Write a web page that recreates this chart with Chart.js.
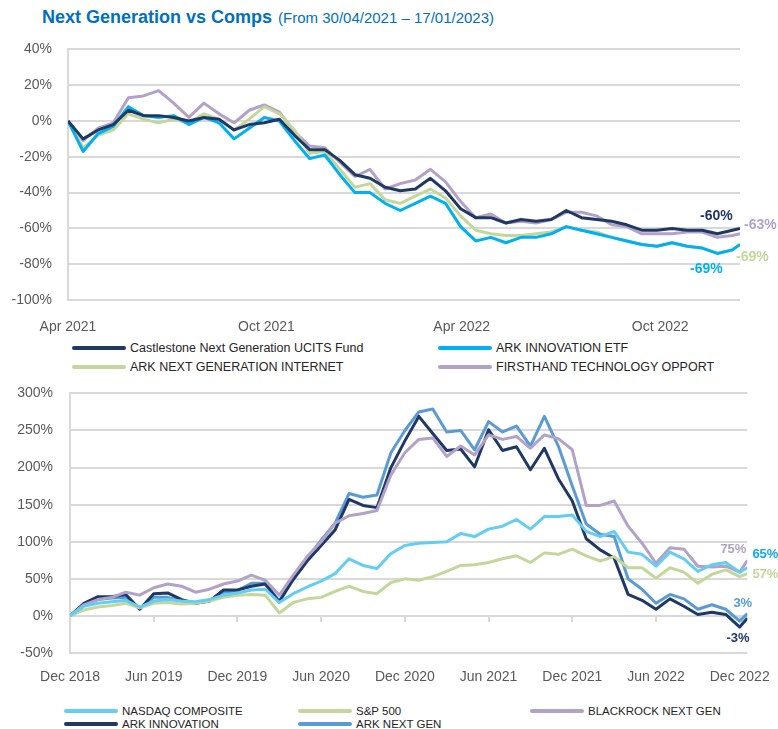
<!DOCTYPE html>
<html>
<head>
<meta charset="utf-8">
<title>Next Generation vs Comps</title>
<script src="https://cdn.jsdelivr.net/npm/chart.js@4.4.1/dist/chart.umd.min.js"></script>
<style>
  html, body { margin: 0; padding: 0; background: #fff; }
  body { width: 778px; height: 729px; position: relative; overflow: hidden; font-family: 'Liberation Sans', Arial, sans-serif; }
  .title { position: absolute; left: 42px; top: 7px; color: #0070C0; white-space: nowrap; }
  .title b { font-size: 18px; }
  .title span { font-size: 15px; margin-left: 6px; }
  .box { position: absolute; left: 0; width: 778px; }
  #topBox { top: 25px; height: 311px; }
  #botBox { top: 368px; height: 324px; }
  .legend { position: absolute; display: grid; font-family: 'Liberation Sans Narrow', 'Liberation Sans', sans-serif; color: #262626; }
  .legend .item { display: flex; align-items: center; white-space: nowrap; }
  .legend .swatch { width: 54px; height: 4px; border-radius: 2px; margin-right: 4px; }
  #topLegend { left: 72px; top: 338px; grid-template-columns: 366px 300px; grid-auto-rows: 19px; font-size: 12.5px; }
  #botLegend { left: 64px; top: 704px; grid-template-columns: 234px 232px 200px; grid-auto-rows: 13px; font-size: 11.5px; }
</style>
</head>
<body>
<div class="title"><b>Next Generation vs Comps</b><span>(From 30/04/2021 – 17/01/2023)</span></div>
<div class="box" id="topBox"><canvas id="topChart" width="778" height="311"></canvas></div>
<div class="legend" id="topLegend"></div>
<div class="box" id="botBox"><canvas id="botChart" width="778" height="324"></canvas></div>
<div class="legend" id="botLegend"></div>
<script>
// top chart: performance (%) since 30/04/2021, x = days after start
var topDays = [0,14,28,42,56,70,84,98,112,126,140,154,168,182,196,210,224,238,252,266,280,294,308,322,336,350,364,378,392,406,420,434,448,462,476,490,504,518,532,546,560,574,588,602,616,623];
var castlestone = [0,-10,-5,-2,6,3,3,2,0,2, 1,-5,-2,-1,1,-8,-16,-16,-22,-30, -32,-37,-39,-38,-32,-39,-49,-54,-54,-57, -55,-56,-55,-50,-54,-55,-56,-58,-61,-61, -60,-61,-61,-63,-61,-60];
var arkInnovationEtf = [0,-17,-7,-3,8,3,2,3,-2,2, -1,-10,-4,2,0,-11,-21,-19,-30,-40, -40,-46,-50,-46,-42,-46,-59,-67,-65,-68, -65,-65,-63,-59,-61,-63,-65,-67,-69,-70, -68,-70,-71,-74,-72,-69];
var arkNextGenInternet = [0,-15,-8,-5,4,1,-1,1,-1,4, 1,-5,1,8,4,-5,-18,-17,-27,-37, -35,-44,-46,-42,-38,-43,-53,-61,-63,-64, -64,-63,-62,-59,-61,-62,-65,-67,-69,-70, -68,-70,-71,-74,-72,-69];
var firsthandTech = [0,-11,-4,-1,13,14,17,10,2,10, 4,-1,6,9,5,-6,-14,-15,-23,-31, -27,-38,-35,-33,-27,-34,-45,-54,-52,-57, -56,-57,-55,-51,-51,-53,-58,-59,-63,-63, -63,-62,-62,-65,-64,-63];
var topTickDays = [0, 184, 365, 549];
var topTickLabels = ['Apr 2021', 'Oct 2021', 'Apr 2022', 'Oct 2022'];

// bottom chart: monthly performance (%), x = months after Dec 2018
var botMonths = [0,1,2,3,4,5,6,7,8,9,10,11,12,13,14,15,16,17,18,19,20,21,22,23,24,25,26,27,28,29,30,31,32,33,34,35,36,37,38,39,40,41,42,43,44,45,46,47,48,48.55];
var nasdaq = [0,13,17,19,21,12,20,22,20,19, 22,28,31,35,36,18,30,39,47,57, 77,68,64,84,95,98,99,100,111,107, 117,121,130,117,134,134,136,114,107,114, 86,83,67,86,77,60,69,72,59,65];
var sp500 = [0,8,12,14,17,11,17,18,16,17, 20,25,28,29,28,4,18,23,25,33, 40,33,30,45,50,48,53,60,68,69, 72,77,81,72,85,83,90,81,74,80, 65,65,51,65,59,44,56,62,53,57];
var blackrockNextGen = [0,15,22,25,32,28,38,43,40,32, 36,43,47,55,48,28,55,80,100,125, 135,138,142,190,220,238,240,215,229,217, 244,238,242,226,244,239,224,149,149,155, 121,98,71,92,90,67,66,67,59,75];
var arkInnovation = [0,17,26,26,29,9,30,31,22,17, 20,35,35,40,43,19,49,74,95,116, 157,149,146,200,236,269,246,223,225,201, 251,223,228,197,226,185,155,104,89,78, 29,21,9,23,13,2,5,2,-15,-3];
var arkNextGen = [0,16,22,24,25,10,25,25,20,17, 20,32,34,44,44,20,52,78,102,125, 165,160,163,220,250,275,279,248,250,224, 262,248,256,229,269,229,175,124,110,107, 50,36,17,29,23,9,15,9,-7,3];
var botTickMonths = [0, 6, 12, 18, 24, 30, 36, 42, 48];
var botTickLabels = ['Dec 2018','Jun 2019','Dec 2019','Jun 2020','Dec 2020','Jun 2021','Dec 2021','Jun 2022','Dec 2022'];

var gridColor = '#d9d9d9';
var tickColor = '#595959';

function pts(xs, ys) {
    return ys.map(function(y, i) { return { x: xs[i], y: y }; });
}

function line(label, xs, ys, color, endLabel) {
    return {
        label: label,
        data: pts(xs, ys),
        borderColor: color,
        backgroundColor: color,
        borderWidth: 3,
        pointRadius: 0,
        tension: 0,
        borderJoinStyle: 'round',
        endLabel: endLabel
    };
}

// draws the last value next to the end of a line
var endLabels = {
    id: 'endLabels',
    afterDatasetsDraw: function(chart, args, opts) {
        var ctx = chart.ctx;
        chart.data.datasets.forEach(function(ds, i) {
            if (!ds.endLabel) return;
            var meta = chart.getDatasetMeta(i);
            var last = meta.data[meta.data.length - 1];
            var v = ds.data[ds.data.length - 1].y;
            ctx.save();
            ctx.font = 'bold ' + opts.size + 'px "Liberation Sans", Arial, sans-serif';
            ctx.fillStyle = ds.endLabel.color || ds.borderColor;
            ctx.textAlign = 'left';
            ctx.textBaseline = 'middle';
            ctx.fillText(Math.round(v) + '%', last.x + ds.endLabel.dx, last.y + ds.endLabel.dy);
            ctx.restore();
        });
    }
};

function htmlLegend(chart, el) {
    chart.data.datasets.forEach(function(ds) {
        var item = document.createElement('div');
        item.className = 'item';
        var sw = document.createElement('span');
        sw.className = 'swatch';
        sw.style.background = ds.borderColor;
        var tx = document.createElement('span');
        tx.textContent = ds.label;
        item.appendChild(sw);
        item.appendChild(tx);
        el.appendChild(item);
    });
}

var tickFont = { family: "'Liberation Sans', Arial, sans-serif", size: 14 };

// Gráfico superior
var topChart = new Chart(document.getElementById('topChart'), {
    type: 'line',
    data: {
        datasets: [
            line('Castlestone Next Generation UCITS Fund', topDays, castlestone, '#1F3864', { dx: -40, dy: -12 }),
            line('ARK INNOVATION ETF', topDays, arkInnovationEtf, '#00B0F0', { dx: -50, dy: 25 }),
            line('ARK NEXT GENERATION INTERNET', topDays, arkNextGenInternet, '#C4D79B', { dx: -4, dy: 13 }),
            line('FIRSTHAND TECHNOLOGY OPPORT', topDays, firsthandTech, '#B3A2C7', { dx: 4, dy: -9 })
        ]
    },
    options: {
        responsive: false,
        animation: false,
        devicePixelRatio: 1,
        layout: { padding: { top: 12, right: 38, left: 0, bottom: 0 } },
        plugins: { legend: { display: false }, tooltip: { enabled: false }, endLabels: { size: 14 } },
        scales: {
            x: {
                type: 'linear', min: 0, max: 623,
                afterBuildTicks: function(s) { s.ticks = topTickDays.map(function(v) { return { value: v }; }); },
                afterFit: function(s) { s.height = 36; },
                grid: { display: false },
                border: { display: false },
                ticks: {
                    color: tickColor, font: tickFont, padding: 11, maxRotation: 0, autoSkip: false,
                    callback: function(v) { return topTickLabels[topTickDays.indexOf(v)]; }
                }
            },
            y: {
                min: -100, max: 40,
                afterFit: function(s) { s.width = 68; },
                grid: { color: gridColor, lineWidth: 2, drawTicks: false },
                border: { display: true, color: gridColor, width: 2 },
                ticks: {
                    stepSize: 20, color: tickColor, font: tickFont, padding: 16,
                    callback: function(v) { return v + '%'; }
                }
            }
        }
    },
    plugins: [endLabels]
});
htmlLegend(topChart, document.getElementById('topLegend'));

// Gráfico inferior
var botChart = new Chart(document.getElementById('botChart'), {
    type: 'line',
    data: {
        datasets: [
            line('NASDAQ COMPOSITE', botMonths, nasdaq, '#63CDF3', { dx: 5, dy: -13, color: '#12A8E6' }),
            line('S&P 500', botMonths, sp500, '#C4D79B', { dx: 5, dy: 1 }),
            line('BLACKROCK NEXT GEN', botMonths, blackrockNextGen, '#B3A2C7', { dx: -27, dy: -11 }),
            line('ARK INNOVATION', botMonths, arkInnovation, '#1F3864', { dx: -21, dy: 20 }),
            line('ARK NEXT GEN', botMonths, arkNextGen, '#5B9BD5', { dx: -14, dy: -10 })
        ]
    },
    options: {
        responsive: false,
        animation: false,
        devicePixelRatio: 1,
        layout: { padding: { top: 12, right: 29, left: 0, bottom: 0 } },
        plugins: { legend: { display: false }, tooltip: { enabled: false }, endLabels: { size: 13 } },
        scales: {
            x: {
                type: 'linear', min: 0, max: 48.55,
                afterBuildTicks: function(s) { s.ticks = botTickMonths.map(function(v) { return { value: v }; }); },
                afterFit: function(s) { s.height = 39; },
                grid: { display: false },
                border: { display: false },
                ticks: {
                    color: tickColor, font: tickFont, padding: 8, maxRotation: 0, autoSkip: false,
                    callback: function(v) { return botTickLabels[botTickMonths.indexOf(v)]; }
                }
            },
            xTick: {
                type: 'linear', axis: 'x', position: { y: 0 }, min: 0, max: 48.55,
                afterBuildTicks: function(s) { s.ticks = botTickMonths.map(function(v) { return { value: v }; }); },
                grid: { drawOnChartArea: false, drawTicks: true, tickLength: 6, color: gridColor, lineWidth: 2 },
                border: { display: false },
                ticks: { display: false }
            },
            y: {
                min: -50, max: 300,
                afterFit: function(s) { s.width = 70; },
                grid: { color: gridColor, lineWidth: 2, drawTicks: false },
                border: { display: true, color: gridColor, width: 2 },
                ticks: {
                    stepSize: 50, color: tickColor, font: tickFont, padding: 17,
                    callback: function(v) { return v + '%'; }
                }
            }
        }
    },
    plugins: [endLabels]
});
htmlLegend(botChart, document.getElementById('botLegend'));
</script>
</body>
</html>
